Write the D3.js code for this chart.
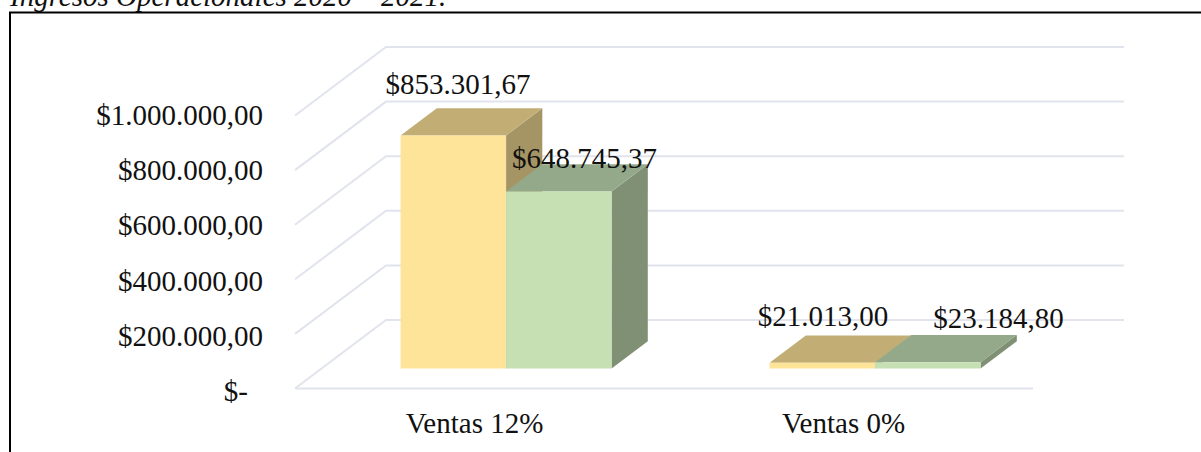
<!DOCTYPE html>
<html><head><meta charset="utf-8">
<script src="https://cdn.jsdelivr.net/npm/d3@7"></script>
<style>html,body{margin:0;padding:0;background:#fff;overflow:hidden}svg{display:block}text{font-family:"Liberation Serif",serif;fill:#111}</style>
</head><body><svg id="c" width="1201" height="452"></svg>
<script>
const categories = ["Ventas 12%", "Ventas 0%"];
const series2020 = [853301.67, 21013.00];
const series2021 = [648745.37, 23184.80];
const tickValues = [0, 200000, 400000, 600000, 800000, 1000000];
const titleText = "Ingresos Operacionales 2020 – 2021.";

const svg = d3.select("#c");
const locale = d3.formatLocale({decimal:",", thousands:".", grouping:[3], currency:["$",""]});
const money = locale.format("$,.2f");
const FONT = 29;

const x = d3.scaleBand().domain(categories).range([295, 1033]);
const y = d3.scaleLinear().domain([0, 1000000]).range([388.5, 115.5]);
const yLabel = d3.scaleLinear().domain([0, 1000000]).range([391, 115.5]);
const depthX = d3.scaleLinear().domain([0, 1]).range([0, 91]);
const depthY = d3.scaleLinear().domain([0, 1]).range([0, -68.5]);
const pt = (px, v, d) => [px + depthX(d), y(v) + depthY(d)];
const line = d3.line();

// title and frame
svg.append("text").attr("x", 10).attr("y", 6).attr("font-size", FONT).attr("font-style", "italic").text(titleText);
svg.append("path").attr("d", "M10,452V12.5H1201").attr("fill", "none").attr("stroke", "#000").attr("stroke-width", 2);

// walls
const gridColor = "#e1e4ec";
const grid = svg.append("g").attr("fill", "none").attr("stroke", gridColor).attr("stroke-width", 2);
tickValues.forEach(t => {
  grid.append("path").attr("d", line([pt(x.range()[0], t, 0), pt(x.range()[0], t, 1), pt(x.range()[1], t, 1)]));
});
grid.append("path").attr("d", line([pt(x.range()[0], 0, 0), pt(x.range()[1], 0, 0)]));

// tick labels
const axis = d3.axisLeft(yLabel).tickValues(tickValues).tickSize(0).tickPadding(0)
  .tickFormat(v => v === 0 ? "$-" : money(v));
const axG = svg.append("g").attr("transform", "translate(263,0)").call(axis);
axG.select(".domain").remove();
axG.selectAll("text").attr("font-size", FONT).attr("font-family", "Liberation Serif").attr("fill", "#111");
axG.selectAll(".tick").filter(d => d === 0).select("text").attr("x", -15);

// category labels
svg.append("g").selectAll("text").data(categories).join("text")
  .attr("x", d => x(d) + x.bandwidth()/2 - 5).attr("y", 433).attr("text-anchor", "middle")
  .attr("font-size", 29).text(d => d);

// 3D bars
const d0 = 0.292, d1 = 0.69;
const barW = 105.5;
const seriesDefs = [
  {vals: series2020, offset: -1, front:"#fee499", top:"#c2ae75", side:"#a59565"},
  {vals: series2021, offset: 0, front:"#c6e0b4", top:"#94a98a", side:"#7f9074"}
];
const bars = svg.append("g");
categories.forEach((c, i) => {
  const cx = x(c) + x.bandwidth()/2;
  seriesDefs.forEach(s => {
    const L = cx + s.offset*barW, R = L + barW, v = s.vals[i];
    const poly = (pts, fill) => bars.append("path").attr("d", line(pts)+"Z").attr("fill", fill);
    poly([pt(R,0,d0), pt(R,v,d0), pt(R,v,d1), pt(R,0,d1)], s.side);
    poly([pt(L,v,d0), pt(R,v,d0), pt(R,v,d1), pt(L,v,d1)], s.top);
    poly([pt(L,0,d0), pt(R,0,d0), pt(R,v,d0), pt(L,v,d0)], s.front);
  });
});

// data labels (placed as in the reference)
const labelPos = [[458,94],[584.5,168],[823,326],[998.5,328]];
const labelVals = [series2020[0], series2021[0], series2020[1], series2021[1]];
svg.append("g").selectAll("text").data(labelVals).join("text")
  .attr("x", (d,i)=>labelPos[i][0]).attr("y", (d,i)=>labelPos[i][1])
  .attr("text-anchor","middle").attr("font-size", FONT).text(d => money(d));
</script></body></html>
